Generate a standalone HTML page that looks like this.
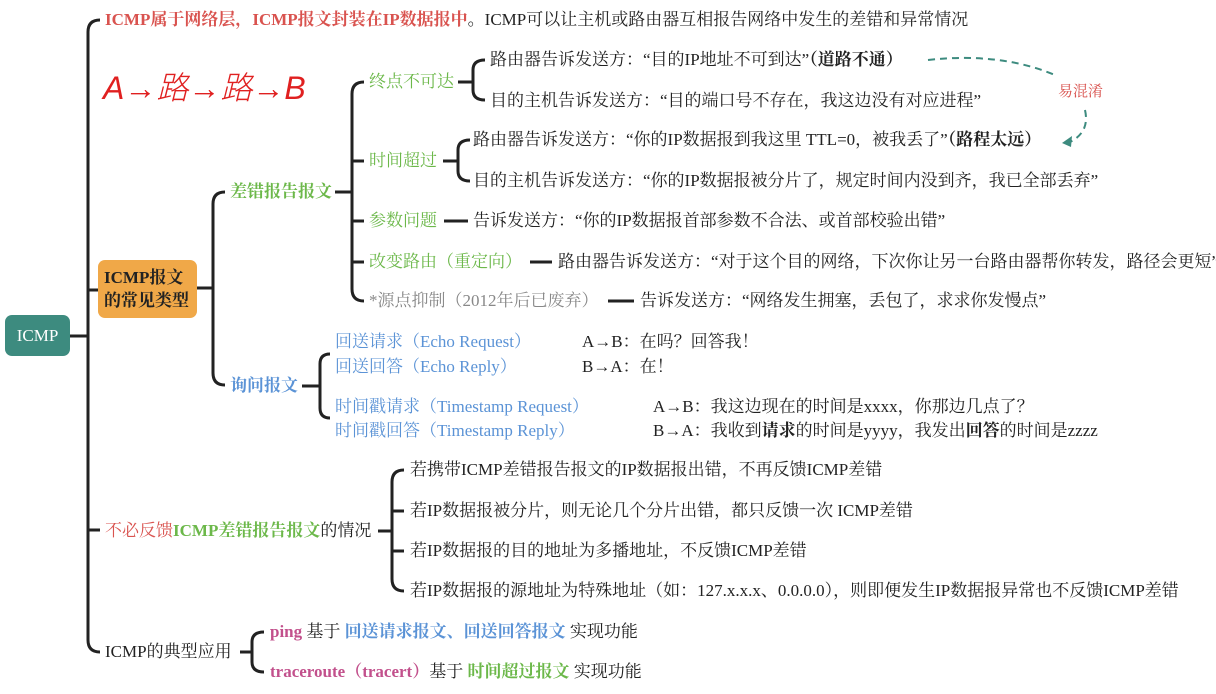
<!DOCTYPE html>
<html><head><meta charset="utf-8"><style>
body{margin:0;width:1216px;height:694px;background:#fff;overflow:hidden;position:relative;font-family:"Liberation Serif","Noto Serif CJK SC",serif;font-size:17px;color:#222}
.t{position:absolute;white-space:nowrap;line-height:20px;transform:translateY(-10px)}
.g{color:#6cb84a}.b{color:#5b93d6}.r{color:#d9534f}.gr{color:#888}.p{color:#c2508c}
.bd{font-weight:bold}
svg{position:absolute;left:0;top:0}
</style></head><body>
<svg width="1216" height="694" fill="none" stroke="#222" stroke-width="3">
<path d="M100 20 Q88 20 88 32 V640 Q88 652 100 652"/>
<path d="M70 336 H88 M88 290 H98 M88 530 H100"/>
<path d="M197 288 H213 M225 192 Q213 192 213 204 V373 Q213 385 225 385"/>
<path d="M335 192 H352 M364 82 Q352 82 352 94 V289 Q352 301 364 301 M352 161 H364 M352 221 H364 M352 262 H364"/>
<path d="M458 82 H473 M485 60 Q473 60 473 70 V90 Q473 100 485 100"/>
<path d="M443 161 H458 M470 140 Q458 140 458 150 V171 Q458 181 470 181"/>
<path d="M444 221 H468 M530 262 H552 M608 301 H634"/>
<path d="M302 386 H320 M330 354 Q320 354 320 364 V408 Q320 418 330 418"/>
<path d="M378 531 H392 M404 470 Q392 470 392 482 V579 Q392 591 404 591 M392 511 H404 M392 551 H404"/>
<path d="M240 652 H252 M264 632 Q252 632 252 642 V662 Q252 672 264 672"/>
<path d="M928 60 Q1000 52 1055 75" stroke="#3d8b7f" stroke-width="2" stroke-dasharray="7 5"/>
<path d="M1085 110 Q1090 132 1070 142" stroke="#3d8b7f" stroke-width="2" stroke-dasharray="7 5"/>
<path d="M1062 143 L1072 136 L1071 147 Z" fill="#3d8b7f" stroke="none"/>
</svg>
<div style="position:absolute;left:5px;top:315px;width:65px;height:41px;background:#3d8b7f;border-radius:7px;color:#fff;text-align:center;line-height:41px">ICMP</div>
<div style="position:absolute;left:98px;top:260px;width:99px;height:58px;background:#f0a848;border-radius:7px;font-weight:bold;line-height:23px;padding:6px 0 0 6px;box-sizing:border-box">ICMP报文<br>的常见类型</div>
<div class="t r bd" style="left:105px;top:20px">ICMP属于网络层，ICMP报文封装在IP数据报中<span style="color:#222;font-weight:normal">。ICMP可以让主机或路由器互相报告网络中发生的差错和异常情况</span></div>
<div class="t" style="left:103px;top:88px;color:#e02020;font-size:32px;line-height:40px;transform:translateY(-20px);font-family:'Liberation Sans','Noto Sans CJK SC',sans-serif;font-style:italic;font-weight:300">A→路→路→B</div>
<div class="t g bd" style="left:230px;top:192px">差错报告报文</div>
<div class="t b bd" style="left:230px;top:386px">询问报文</div>
<div class="t g" style="left:369px;top:82px">终点不可达</div>
<div class="t g" style="left:369px;top:161px">时间超过</div>
<div class="t g" style="left:369px;top:221px">参数问题</div>
<div class="t g" style="left:369px;top:262px">改变路由（重定向）</div>
<div class="t gr" style="left:369px;top:301px">*源点抑制（2012年后已废弃）</div>
<div class="t" style="left:490px;top:60px">路由器告诉发送方：“目的IP地址不可到达”<b>（道路不通）</b></div>
<div class="t" style="left:490px;top:101px">目的主机告诉发送方：“目的端口号不存在，我这边没有对应进程”</div>
<div class="t" style="left:473px;top:140px">路由器告诉发送方：“你的IP数据报到我这里 TTL=0，被我丢了”<b>（路程太远）</b></div>
<div class="t" style="left:473px;top:181px">目的主机告诉发送方：“你的IP数据报被分片了，规定时间内没到齐，我已全部丢弃”</div>
<div class="t" style="left:473px;top:221px">告诉发送方：“你的IP数据报首部参数不合法、或首部校验出错”</div>
<div class="t" style="left:558px;top:262px">路由器告诉发送方：“对于这个目的网络，下次你让另一台路由器帮你转发，路径会更短”</div>
<div class="t" style="left:640px;top:301px">告诉发送方：“网络发生拥塞，丢包了，求求你发慢点”</div>
<div class="t r" style="left:1058px;top:92px;font-size:15px">易混淆</div>
<div class="t b" style="left:335px;top:342px">回送请求（Echo Request）</div>
<div class="t b" style="left:335px;top:367px">回送回答（Echo Reply）</div>
<div class="t b" style="left:335px;top:407px">时间戳请求（Timestamp Request）</div>
<div class="t b" style="left:335px;top:431px">时间戳回答（Timestamp Reply）</div>
<div class="t" style="left:582px;top:342px">A→B：在吗？回答我！</div>
<div class="t" style="left:582px;top:367px">B→A：在！</div>
<div class="t" style="left:653px;top:407px">A→B：我这边现在的时间是xxxx，你那边几点了？</div>
<div class="t" style="left:653px;top:431px">B→A：我收到<b>请求</b>的时间是yyyy，我发出<b>回答</b>的时间是zzzz</div>
<div class="t" style="left:105px;top:531px"><span class="r">不必反馈</span><span class="g bd">ICMP差错报告报文</span>的情况</div>
<div class="t" style="left:410px;top:470px">若携带ICMP差错报告报文的IP数据报出错，不再反馈ICMP差错</div>
<div class="t" style="left:410px;top:511px">若IP数据报被分片，则无论几个分片出错，都只反馈一次 ICMP差错</div>
<div class="t" style="left:410px;top:551px">若IP数据报的目的地址为多播地址，不反馈ICMP差错</div>
<div class="t" style="left:410px;top:591px">若IP数据报的源地址为特殊地址（如：127.x.x.x、0.0.0.0），则即便发生IP数据报异常也不反馈ICMP差错</div>
<div class="t" style="left:105px;top:652px">ICMP的典型应用</div>
<div class="t" style="left:270px;top:632px"><span class="p bd">ping</span> 基于 <span class="b bd">回送请求报文、回送回答报文</span> 实现功能</div>
<div class="t" style="left:270px;top:672px"><span class="p bd">traceroute（tracert）</span>基于 <span class="g bd">时间超过报文</span> 实现功能</div>
</body></html>
